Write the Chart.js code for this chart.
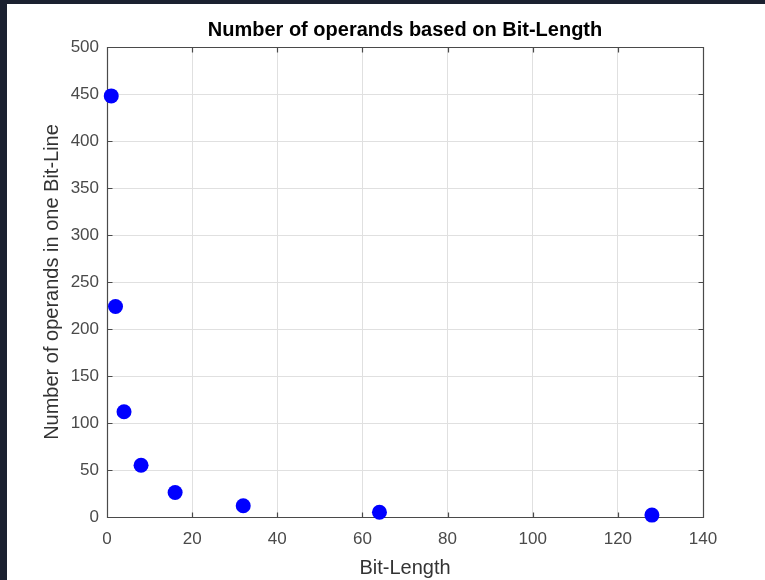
<!DOCTYPE html>
<html>
<head>
<meta charset="utf-8">
<script src="https://cdn.jsdelivr.net/npm/chart.js@4/dist/chart.umd.min.js"></script>
<style>
  html, body { margin: 0; padding: 0; background: #ffffff; }
  #wrap { position: relative; width: 765px; height: 580px; }
  canvas { display: block; }
</style>
</head>
<body>
<div id="wrap"><canvas id="c" width="765" height="580"></canvas></div>
<script>
// Bit-lengths and how many operands fit in one bit-line
const bitLengths = [1, 2, 4, 8, 16, 32, 64, 128];
const operandCounts = [448, 224, 112, 55, 26, 12, 5, 2];

const xTicks = [0, 20, 40, 60, 80, 100, 120, 140];
const yTicks = [0, 50, 100, 150, 200, 250, 300, 350, 400, 450, 500];

const chartTitle = 'Number of operands based on Bit-Length';
const xTitle = 'Bit-Length';
const yTitle = 'Number of operands in one Bit-Line';

const points = bitLengths.map((b, i) => ({ x: b, y: operandCounts[i] }));

const AXIS = '#4a4a4a';
const GRID = '#e0e0e0';
const FONT = '"Liberation Sans", Arial, Helvetica, sans-serif';

// page frame, a box with inward ticks on all four sides, and the title centred over the plot
const framePlugin = {
  id: 'frame',
  beforeDraw(chart) {
    const ctx = chart.ctx;
    ctx.save();
    ctx.fillStyle = '#1b2130';
    ctx.fillRect(0, 0, chart.width, chart.height);
    ctx.fillStyle = '#ffffff';
    ctx.fillRect(7, 4, chart.width - 7, chart.height - 4);
    ctx.restore();
  },
  beforeDatasetsDraw(chart) {
    const { ctx, chartArea: a, scales } = chart;
    const L = Math.round(a.left) + 0.5, R = Math.round(a.right) + 0.5;
    const T = Math.round(a.top) + 0.5, B = Math.round(a.bottom) + 0.5;
    ctx.save();
    ctx.strokeStyle = AXIS;
    ctx.lineWidth = 1.2;
    ctx.beginPath();
    ctx.rect(L, T, R - L, B - T);
    const tl = 5;
    scales.x.ticks.forEach(t => {
      const px = Math.round(scales.x.getPixelForValue(t.value)) + 0.5;
      ctx.moveTo(px, B); ctx.lineTo(px, B - tl);
      ctx.moveTo(px, T); ctx.lineTo(px, T + tl);
    });
    scales.y.ticks.forEach(t => {
      const py = Math.round(scales.y.getPixelForValue(t.value)) + 0.5;
      ctx.moveTo(L, py); ctx.lineTo(L + tl, py);
      ctx.moveTo(R, py); ctx.lineTo(R - tl, py);
    });
    ctx.stroke();

    ctx.fillStyle = '#000000';
    ctx.font = 'bold 20px ' + FONT;
    ctx.textAlign = 'center';
    ctx.textBaseline = 'middle';
    ctx.fillText(chartTitle, (a.left + a.right) / 2, 30);
    ctx.restore();
  }
};

new Chart(document.getElementById('c'), {
  type: 'scatter',
  data: {
    datasets: [{
      data: points,
      backgroundColor: '#0000ff',
      borderColor: '#0000ff',
      borderWidth: 0,
      pointRadius: 7.5,
      pointHoverRadius: 7.5,
      clip: false
    }]
  },
  options: {
    responsive: false,
    animation: false,
    events: [],
    layout: { padding: { left: 0, right: 62, top: 47, bottom: 0 } },
    plugins: {
      legend: { display: false },
      tooltip: { enabled: false },
      title: { display: false }
    },
    scales: {
      x: {
        type: 'linear',
        min: 0, max: 140,
        afterBuildTicks(scale) { scale.ticks = xTicks.map(v => ({ value: v })); },
        afterFit(scale) { scale.height = 63; },
        ticks: { color: AXIS, font: { family: FONT, size: 17 }, padding: 12, maxRotation: 0 },
        grid: { color: GRID, lineWidth: 1, drawTicks: false },
        border: { display: false },
        title: {
          display: true, text: xTitle, color: '#333333',
          font: { family: FONT, size: 20 }, padding: { top: 3, bottom: 0 }
        }
      },
      y: {
        type: 'linear',
        min: 0, max: 500,
        afterBuildTicks(scale) { scale.ticks = yTicks.map(v => ({ value: v })); },
        afterFit(scale) { scale.width = 107; },
        ticks: { color: AXIS, font: { family: FONT, size: 17 }, padding: 8 },
        grid: { color: GRID, lineWidth: 1, drawTicks: false },
        border: { display: false },
        title: {
          display: true, text: yTitle, color: '#333333',
          font: { family: FONT, size: 20 }, padding: { top: 40, bottom: 0 }
        }
      }
    }
  },
  plugins: [framePlugin]
});
</script>
</body>
</html>
